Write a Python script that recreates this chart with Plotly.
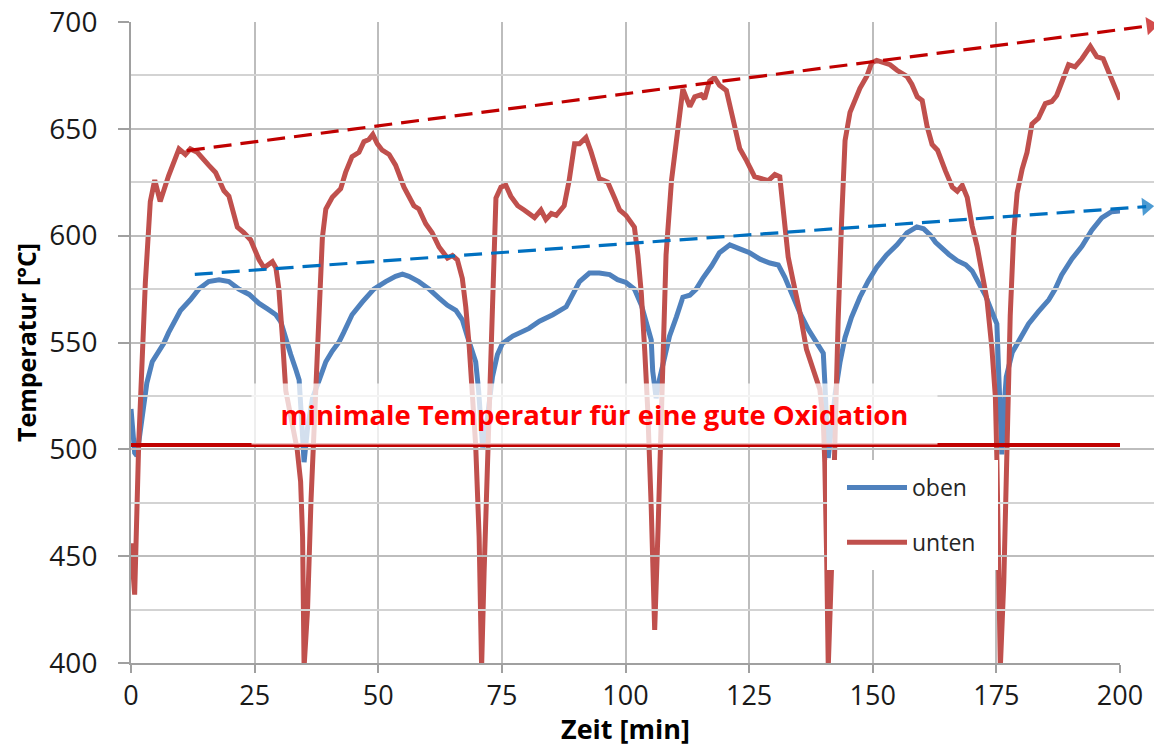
import plotly.graph_objects as go

# ---------------- data ----------------
unten_x = [0.0, 0.74, 1.55, 2.9, 3.9, 4.8, 5.9, 7.6, 9.7, 11.0, 12.0, 13.4, 15.7, 17.1, 18.8, 19.8,
           21.5, 22.8, 24.2, 25.9, 26.9, 28.6, 29.3, 29.9, 30.6, 31.3, 32.6, 33.6, 34.3, 34.7, 35.0,
           35.7, 36.4, 37.0, 38.0, 38.7, 39.4, 40.7, 42.4, 43.4, 44.7, 46.1, 47.1, 48.1, 48.9, 49.8,
           50.8, 52.2, 53.5, 55.2, 57.2, 58.2, 59.6, 60.9, 62.3, 64.0, 65.0, 66.0, 67.0, 67.7, 68.4,
           69.0, 69.7, 70.4, 70.9, 71.4, 72.1, 72.8, 73.4, 73.8, 74.8, 75.8, 76.8, 78.2, 79.5, 80.5,
           81.6, 82.9, 83.9, 85.0, 86.0, 87.6, 88.6, 89.7, 90.7, 92.0, 93.0, 94.7, 96.4, 97.8, 98.8,
           100.1, 101.8, 102.5, 103.2, 103.9, 104.5, 105.2, 105.9, 106.6, 107.2, 108.2, 109.3, 110.3,
           111.6, 113.0, 114.0, 115.3, 116.0, 117.0, 118.0, 119.0, 120.4, 121.6, 122.5, 123.1, 124.5,
           126.1, 128.9, 130.2, 131.2, 132.2, 132.9, 133.9, 135.3, 136.6, 138.0, 139.3, 140.0, 140.3,
           140.7, 141.0, 141.7, 142.4, 143.0, 143.7, 144.4, 145.4, 146.4, 147.4, 148.8, 149.8, 150.8,
           152.2, 153.5, 154.9, 156.9, 157.9, 159.0, 160.0, 161.0, 162.0, 163.1, 164.7, 166.1, 167.1,
           168.1, 169.1, 170.1, 171.1, 172.1, 173.1, 174.1, 174.8, 175.1, 175.8, 176.5, 177.2, 177.8,
           178.5, 179.2, 180.2, 181.2, 182.2, 183.5, 184.9, 186.2, 187.2, 188.6, 189.6, 190.9, 192.3,
           194.0, 195.3, 196.6, 197.6, 199.0, 200.0]
unten_y = [456, 432, 502, 578, 616, 626, 616, 628, 640.6, 638, 640.6, 639, 633, 629.6, 621, 618.5,
           604, 601.5, 598, 588.7, 585, 587.8, 585, 575, 553, 527.4, 512, 500, 485, 459, 398,
           425, 476, 510, 572, 599, 612.5, 618, 622, 629.6, 637, 639, 644, 645, 647.4, 643,
           640, 638, 633, 622.7, 614, 612.5, 605.6, 601.4, 594.7, 589.5, 590.7, 588.7, 580, 566.6, 548,
           524, 502, 459, 398, 442, 493, 544, 595, 617.6, 622.7, 623.6, 618.5, 614, 612, 610,
           608.5, 612, 607.6, 610.4, 609.5, 614, 625.8, 643, 643, 645.9, 639.5, 626.7, 625, 617.6, 612,
           609.5, 604, 591, 573, 545.7, 518.4, 473, 415.5, 463.8, 518.4, 591, 625.8, 645.9,
           668.6, 660.4, 665, 666, 664, 672.3, 674, 670.4, 668, 656, 645, 640.8, 635,
           627.6, 625.8, 628.6, 627.6, 607, 590, 578.8, 563.7, 546.8, 537.4, 528, 513, 494,
           447, 398, 447, 522, 560, 607, 644.5, 657.7, 663.3, 669, 674.6, 681, 682,
           681, 680, 677.4, 674.6, 670.9, 665, 663.3, 651, 642.7, 640, 630.3, 622.7, 620.8,
           623.6, 617.9, 604.5, 595, 583.5, 570, 547.2, 524.3, 495.7, 398, 438, 505, 562.5,
           600.7, 620, 631, 639, 652.3, 655, 661.8, 662.8, 665.6, 673.3, 680, 679, 682.8,
           688.6, 683.8, 682.8, 677, 669.5, 663.7]

oben_x = [0.0, 0.74, 1.2, 2.2, 3.2, 4.3, 5.3, 6.6, 7.6, 9.0, 10.0, 12.0, 13.7, 15.7, 17.8, 19.8, 21.8,
          23.9, 25.9, 27.6, 29.3, 30.3, 31.3, 32.3, 33.3, 34.0, 34.5, 34.8, 35.0, 35.7, 36.7, 38.0,
          39.4, 40.7, 42.1, 43.0, 44.7, 46.8, 49.1, 51.5, 53.5, 54.9, 56.2, 58.2, 60.3, 62.3, 64.0,
          65.7, 67.0, 68.0, 69.0, 69.7, 70.3, 70.7, 71.1, 71.8, 72.4, 73.1, 74.1, 75.1, 77.2, 79.2,
          80.5, 82.6, 85.3, 88.0, 89.3, 90.7, 92.7, 94.7, 96.8, 98.4, 100.1, 101.8, 103.2, 104.5,
          105.2, 105.5, 105.9, 106.2, 106.9, 107.9, 108.9, 110.3, 111.6, 113.0, 114.3, 115.7, 117.4,
          119.0, 121.1, 123.1, 125.1, 127.2, 129.2, 130.9, 132.2, 133.6, 135.3, 137.0, 138.6, 140.0,
          140.3, 140.7, 141.0, 141.7, 142.4, 143.4, 144.4, 145.7, 147.4, 149.1, 150.8, 152.8, 154.9,
          156.9, 158.9, 160.3, 161.6, 162.7, 164.0, 165.4, 167.1, 168.8, 170.1, 171.4, 172.8, 174.1,
          175.1, 175.5, 175.8, 176.1, 176.7, 177.0, 178.2, 179.5, 181.5, 183.5, 185.6, 186.9, 188.2,
          190.3, 192.3, 194.3, 196.3, 198.3, 200.0]
oben_y = [518.9, 498.4, 497, 513.8, 531, 541, 544.4, 549.5, 554.6, 561.4, 565, 570, 575, 578.5, 579.3,
          578.5, 575, 572.5, 568.3, 565.7, 563, 559.7, 551, 544.4, 537.6, 532.5, 513.8, 498.4, 494, 510,
          524, 532, 541, 546, 550.4, 554.6, 563, 569, 575, 578.5, 581, 582, 581, 578.5, 575, 570.8,
          567.4, 565, 560.6, 553, 546, 541, 527.4, 510, 501, 510, 522.3, 534, 544.4, 549.5, 553, 555.5,
          556.6, 560, 563, 566.7, 573, 578.5, 582.5, 582.5, 581.8, 579.4, 578.1, 575, 567.6, 556.6,
          551.2, 536.6, 527.5, 523.9, 533, 542, 553, 562, 571.2, 572.1, 575, 580.3, 585.8,
          592, 595.7, 593.8, 592, 589, 587.2, 586.3, 580.6, 573, 563.7, 556, 550.6, 545,
          531.8, 513, 496, 511, 526, 541, 552.4, 561.8, 571.2, 578.8, 585.3, 591, 595.7,
          601.3, 604.1, 603.2, 600.4, 596.9, 594, 591.2, 588.3, 586.4, 583.5, 577.8, 572, 564.4,
          558.7, 533.9, 505.2, 497.6, 524.3, 533.9, 545.3, 551, 558.7, 564.4, 570, 575, 581.6,
          589.2, 595, 602.6, 608.3, 611.2, 611.6]

# minimum temperature for good oxidation
limit_x = [0, 200]
limit_y = [502, 502]

# rising trend lines (start, end of dashed line) and arrow heads
trend_rot_x = [11.3, 206.2]
trend_rot_y = [639.8, 698.3]
trend_blau_x = [12.9, 205.3]
trend_blau_y = [581.9, 613.6]

x_ticks = [0, 25, 50, 75, 100, 125, 150, 175, 200]
y_ticks = [400, 450, 500, 550, 600, 650, 700]

# ---------------- figure ----------------
# the page body has an 8px default margin, so the figure is 8px smaller
OFF = 8
W, H = 1162 - OFF, 747 - OFF
ML, MR, MT, MB = 131 - OFF, 0, 22 - OFF, 84
plot_w = W - ML - MR
plot_h = H - MT - MB
dom_end = 989 / plot_w


def px_x(p):  # page pixel -> paper fraction (x)
    return (p - OFF - ML) / plot_w


def px_y(p):  # page pixel -> paper fraction (y)
    return (H - MB - (p - OFF)) / plot_h


fig = go.Figure()

fig.add_trace(go.Scatter(x=oben_x, y=oben_y, mode="lines", name="oben",
                         line=dict(color="#4F81BD", width=5), legendgroup="a"))
fig.add_trace(go.Scatter(x=unten_x, y=unten_y, mode="lines", name="unten",
                         line=dict(color="#C0504D", width=5), legendgroup="b"))
fig.add_trace(go.Scatter(x=limit_x, y=limit_y, mode="lines", showlegend=False,
                         line=dict(color="#C00000", width=4)))

# trend lines on a wider (invisible) x axis so that the arrows reach beyond the plot
for tx, ty, col in [(trend_rot_x, trend_rot_y, "#C00000"), (trend_blau_x, trend_blau_y, "#0070C0")]:
    fig.add_trace(go.Scatter(x=tx, y=ty, xaxis="x2", yaxis="y", mode="lines+markers",
                             showlegend=False, cliponaxis=False,
                             line=dict(color=col, width=3.2, dash="18px,9px"),
                             marker=dict(symbol="triangle-up", size=[0, 16], color=col,
                                         angleref="previous", line=dict(width=0))))

font_main = "Open Sans"
fig.update_layout(
    width=W, height=H,
    margin=dict(l=ML, r=MR, t=MT, b=MB, autoexpand=False),
    paper_bgcolor="white", plot_bgcolor="rgba(0,0,0,0)",
    font=dict(family=font_main, color="#1a1a1a"),
    xaxis=dict(domain=[0, dom_end], range=[0, 200], tickvals=x_ticks, automargin=False,
               showgrid=True, gridcolor="#BDBDBD", gridwidth=1.5,
               showline=True, linecolor="#A0A0A0", linewidth=2,
               ticks="outside", ticklen=8, tickcolor="#A0A0A0", tickwidth=1.5,
               ticklabeloverflow="allow",
               tickfont=dict(size=27, color="#1a1a1a"), zeroline=False,
               title=dict(text="<b>Zeit [min]</b>", font=dict(size=27, color="#000"), standoff=4)),
    xaxis2=dict(domain=[0, 1], range=[0, 200 / dom_end], visible=False, anchor="y",
                showgrid=False, zeroline=False),
    yaxis=dict(range=[400, 700], tickvals=y_ticks, automargin=False,
               showgrid=True, gridcolor="#BDBDBD", gridwidth=1.5,
               minor=dict(dtick=25, showgrid=True, gridcolor="#D3D3D3", gridwidth=1.5),
               showline=True, linecolor="#A0A0A0", linewidth=2,
               ticks="outside", ticklen=11, tickcolor="#A0A0A0", tickwidth=1.5,
               ticklabelstandoff=15, ticklabeloverflow="allow",
               tickfont=dict(size=28, color="#1a1a1a"), zeroline=False,
               title=dict(text="<b>Temperatur [°C]</b>", font=dict(size=25, color="#000"), standoff=6)),
    legend=dict(x=px_x(842), y=px_y(466), xanchor="left", yanchor="top",
                bgcolor="white", borderwidth=0, font=dict(size=23, color="#262626"),
                tracegroupgap=22, itemwidth=60),
    showlegend=True,
)

# white legend panel (wider than the legend itself)
fig.add_shape(type="rect", xref="paper", yref="paper", layer="above",
              x0=px_x(827), x1=px_x(998), y0=px_y(570), y1=px_y(460),
              fillcolor="white", line=dict(width=0))

fig.add_annotation(x=93.7, y=516.5, xref="x", yref="y", showarrow=False,
                   text="<b>minimale Temperatur für eine gute Oxidation</b>",
                   font=dict(size=27.5, color="#FF0000", family=font_main),
                   bgcolor="rgba(255,255,255,0.75)", width=683, height=58)

fig.write_html("out.html")
